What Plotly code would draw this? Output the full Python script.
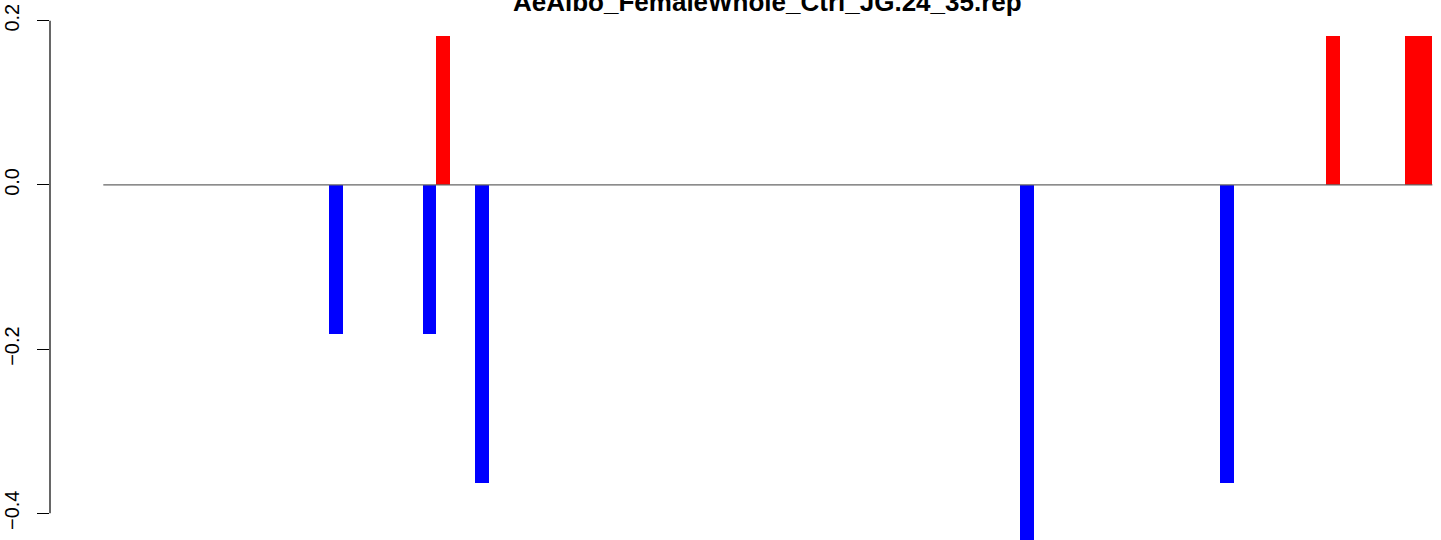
import plotly.graph_objects as go

title_text = "AeAlbo_FemaleWhole_Ctrl_JG.24_35.rep"

# bar positions (in bar-width units along the track) and values
n_positions = 97
positions = [17.0, 23.8, 24.8, 27.65, 67.4, 82.0, 89.75, 95.5, 96.5]
values = [-2/11, -2/11, 2/11, -4/11, -5/11, -4/11, 2/11, 2/11, 2/11]

y_tickvals = [-0.4, -0.2, 0.0, 0.2]
y_ticktext = ["\u22120.4", "\u22120.2", "0.0", "0.2"]

colors = ["#ff0000" if v > 0 else "#0000ff" for v in values]

fig = go.Figure()
fig.add_trace(go.Scatter(
    x=[0, n_positions], y=[0, 0], mode="lines",
    line=dict(color="#666666", width=1.2), hoverinfo="skip", showlegend=False))
fig.add_trace(go.Bar(
    x=positions, y=values, width=1.0,
    marker=dict(color=colors, line=dict(width=0)), showlegend=False))

fig.add_shape(type="line", xref="paper", yref="y", x0=0, x1=0,
              y0=min(y_tickvals), y1=max(y_tickvals),
              line=dict(color="black", width=1.2))

fig.add_annotation(text="<b>" + title_text + "</b>", xref="x", yref="paper",
                   x=n_positions / 2, y=1, yanchor="bottom", yshift=-19,
                   showarrow=False,
                   font=dict(family="Liberation Sans", size=26, color="black"))

fig.update_layout(
    width=1441, height=540,
    margin=dict(l=50, r=0, t=0, b=0, autoexpand=False),
    plot_bgcolor="white", paper_bgcolor="white",
    bargap=0,
    xaxis=dict(range=[-3.89, 97.63], visible=False, showgrid=False, zeroline=False,
               automargin=False),
    yaxis=dict(range=[-0.4325, 0.2252], showgrid=False, zeroline=False, showline=False,
               automargin=False,
               tickvals=y_tickvals, ticktext=y_ticktext, ticks="outside",
               ticklen=12, tickwidth=1.2, tickcolor="black", tickangle=-90,
               ticklabelstandoff=10,
               tickfont=dict(family="Liberation Sans", size=20, color="black")),
)

fig.write_html("out.html", config={"displayModeBar": False},
               post_script="document.body.style.margin='0px';document.body.style.overflow='hidden';")
